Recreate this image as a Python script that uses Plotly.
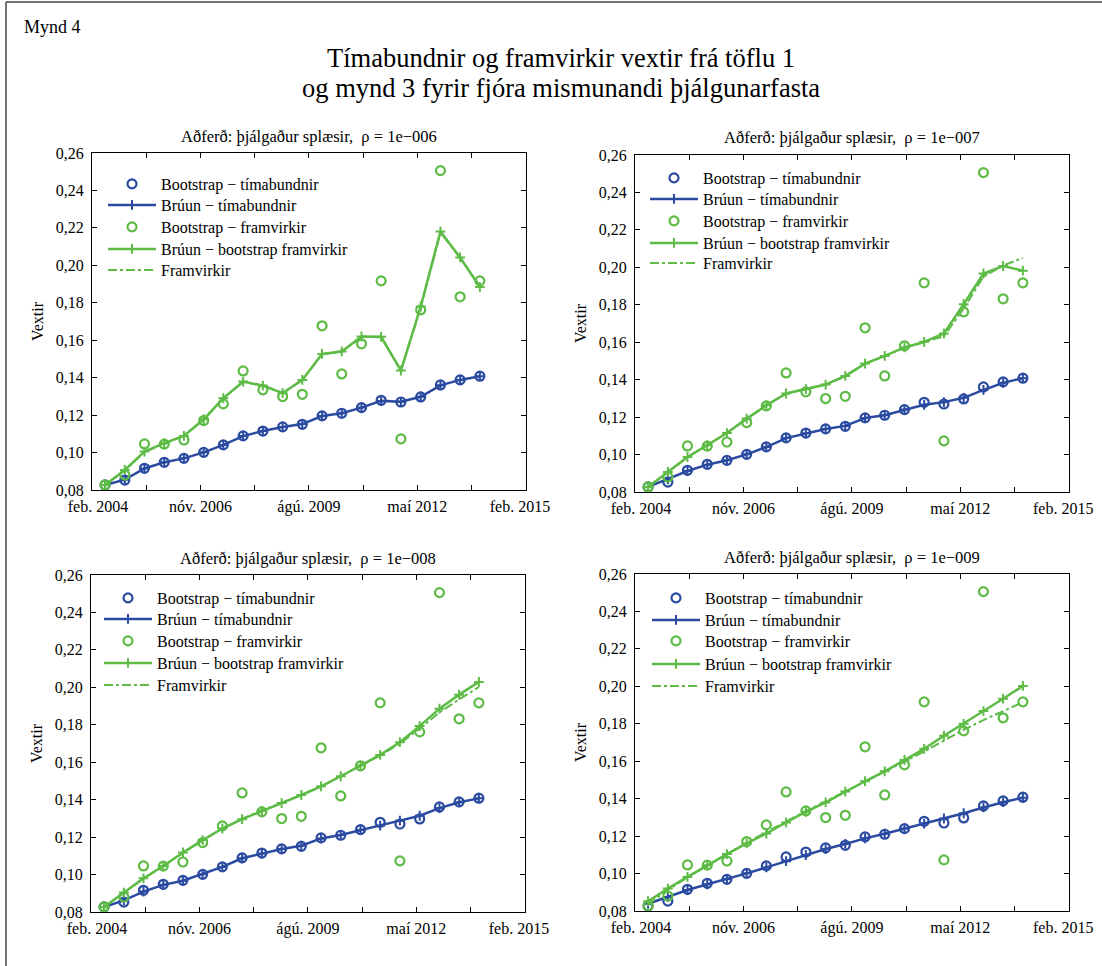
import plotly.graph_objects as go

# Observation dates (semi-annual)
dates = ["2004-06-01", "2004-12-01", "2005-06-01", "2005-12-01", "2006-06-01",
         "2006-12-01", "2007-06-01", "2007-12-01", "2008-06-01", "2008-12-01",
         "2009-06-01", "2009-12-01", "2010-06-01", "2010-12-01", "2011-06-01",
         "2011-12-01", "2012-06-01", "2012-12-01", "2013-06-01", "2013-12-01"]

# Bootstrap results (identical for every smoothing constant)
boot_spot = [0.0827, 0.0853, 0.0916, 0.0948, 0.0969, 0.1001, 0.1041, 0.1089, 0.1115, 0.1137,
             0.1151, 0.1196, 0.1210, 0.1240, 0.1279, 0.1270, 0.1297, 0.1361, 0.1388, 0.1408]
boot_fwd = [0.0827, 0.0880, 0.1046, 0.1045, 0.1067, 0.1171, 0.1260, 0.1436, 0.1335, 0.1299,
            0.1311, 0.1677, 0.1420, 0.1581, 0.1917, 0.1073, 0.1762, 0.2506, 0.1832, 0.1917]

# rho = 1e-6
spot_1 = [0.0827, 0.0855, 0.0915, 0.0948, 0.0969, 0.1001, 0.1041, 0.1088, 0.1115, 0.1137,
          0.1152, 0.1195, 0.1210, 0.1240, 0.1276, 0.1271, 0.1298, 0.1359, 0.1388, 0.1408]
fwdfit_1 = [0.0827, 0.0907, 0.1005, 0.1050, 0.1089, 0.1178, 0.1290, 0.1379, 0.1358, 0.1317,
            0.1388, 0.1527, 0.1540, 0.1620, 0.1618, 0.1438, 0.1780, 0.2181, 0.2042, 0.1884]
fwd_1 = [0.0827, 0.0905, 0.1003, 0.1048, 0.1090, 0.1176, 0.1288, 0.1377, 0.1357, 0.1318,
         0.1386, 0.1525, 0.1539, 0.1618, 0.1616, 0.1440, 0.1772, 0.2176, 0.2040, 0.1890]

# rho = 1e-7
spot_2 = [0.0827, 0.0868, 0.0912, 0.0946, 0.0970, 0.1001, 0.1040, 0.1088, 0.1114, 0.1136,
          0.1153, 0.1195, 0.1210, 0.1240, 0.1266, 0.1280, 0.1303, 0.1345, 0.1383, 0.1408]
fwdfit_2 = [0.0827, 0.0907, 0.0987, 0.1050, 0.1115, 0.1192, 0.1263, 0.1326, 0.1349, 0.1374,
            0.1420, 0.1486, 0.1527, 0.1572, 0.1602, 0.1647, 0.1803, 0.1967, 0.2007, 0.1982]
fwd_2 = [0.0827, 0.0905, 0.0985, 0.1050, 0.1114, 0.1190, 0.1262, 0.1325, 0.1349, 0.1373,
         0.1418, 0.1485, 0.1526, 0.1570, 0.1600, 0.1632, 0.1780, 0.1950, 0.2010, 0.2050]

# rho = 1e-8
spot_3 = [0.0827, 0.0862, 0.0909, 0.0945, 0.0967, 0.1002, 0.1041, 0.1087, 0.1113, 0.1136,
          0.1154, 0.1193, 0.1211, 0.1238, 0.1261, 0.1288, 0.1314, 0.1355, 0.1386, 0.1407]
fwdfit_3 = [0.0827, 0.0904, 0.0980, 0.1046, 0.1118, 0.1184, 0.1246, 0.1296, 0.1341, 0.1382,
            0.1425, 0.1471, 0.1525, 0.1582, 0.1639, 0.1707, 0.1793, 0.1886, 0.1961, 0.2029]
fwd_3 = [0.0827, 0.0902, 0.0978, 0.1045, 0.1116, 0.1183, 0.1246, 0.1298, 0.1342, 0.1383,
         0.1425, 0.1470, 0.1523, 0.1580, 0.1636, 0.1700, 0.1780, 0.1866, 0.1936, 0.2002]

# rho = 1e-9
spot_4 = [0.0839, 0.0875, 0.0912, 0.0943, 0.0970, 0.1001, 0.1033, 0.1066, 0.1099, 0.1131,
          0.1158, 0.1188, 0.1213, 0.1240, 0.1267, 0.1294, 0.1322, 0.1353, 0.1381, 0.1405]
fwdfit_4 = [0.0852, 0.0920, 0.0982, 0.1045, 0.1104, 0.1161, 0.1214, 0.1273, 0.1330, 0.1380,
            0.1438, 0.1493, 0.1546, 0.1607, 0.1666, 0.1736, 0.1800, 0.1868, 0.1934, 0.2002]
fwd_4 = [0.0835, 0.0912, 0.0980, 0.1043, 0.1106, 0.1165, 0.1222, 0.1280, 0.1334, 0.1385,
         0.1437, 0.1490, 0.1543, 0.1598, 0.1652, 0.1710, 0.1768, 0.1820, 0.1868, 0.1915]

rho_labels = ["1e\u2212006", "1e\u2212007", "1e\u2212008", "1e\u2212009"]
series_names = ["Bootstrap \u2212 tímabundnir", "Brúun \u2212 tímabundnir",
                "Bootstrap \u2212 framvirkir", "Brúun \u2212 bootstrap framvirkir", "Framvirkir"]

# Axis ticks
NB = "\u00a0"
x_tickvals = ["2004-02-01", "2005-06-16", "2006-11-01", "2008-03-16", "2009-08-01",
              "2010-12-16", "2012-05-01", "2013-09-16", "2015-02-01"]
x_ticktext = [NB * 3 + "feb. 2004", "", "nóv. 2006", "", "ágú. 2009", "", "maí 2012", "",
              "feb. 2015" + NB * 3]
y_tickvals = [0.08, 0.10, 0.12, 0.14, 0.16, 0.18, 0.20, 0.22, 0.24, 0.26]
y_ticktext = ["0,08", "0,10", "0,12", "0,14", "0,16", "0,18", "0,20", "0,22", "0,24", "0,26"]

BLUE = "#2B4BA1"
GREEN = "#5DBB46"
FONT = "Liberation Serif"
W, H = 1102, 966

# Pixel boxes of the four axes; legend left offset and row centres inside each box
panels = [
    dict(spot=spot_1, fwdfit=fwdfit_1, fwd=fwd_1, px=(92, 526), py=(153, 490),
         lgx=11, rows=(31, 52, 74, 96, 117)),
    dict(spot=spot_2, fwdfit=fwdfit_2, fwd=fwd_2, px=(635, 1069), py=(155, 492),
         lgx=10, rows=(23, 44, 66, 88, 108)),
    dict(spot=spot_3, fwdfit=fwdfit_3, fwd=fwd_3, px=(91, 525), py=(575, 912),
         lgx=8, rows=(23, 44, 66, 88, 110)),
    dict(spot=spot_4, fwdfit=fwdfit_4, fwd=fwd_4, px=(635, 1069), py=(574, 911),
         lgx=12, rows=(24, 46, 67, 90, 112)),
]

fig = go.Figure()
layout = dict(
    width=W, height=H, margin=dict(l=0, r=0, t=0, b=0, pad=0),
    paper_bgcolor="white", plot_bgcolor="white", showlegend=True,
    font=dict(family=FONT, color="black"),
    annotations=[], shapes=[],
)

legend_count = 0
for i, p in enumerate(panels):
    n = "" if i == 0 else str(i + 1)
    xa, ya = "x" + n, "y" + n
    x0, x1 = p["px"]
    y0, y1 = p["py"]
    right_col = i % 2 == 1

    styles = [
        dict(y=boot_spot, mode="markers",
             marker=dict(symbol="circle-open", size=9, color=BLUE,
                         line=dict(width=2.2, color=BLUE))),
        dict(y=p["spot"], mode="lines+markers", line=dict(color=BLUE, width=2.5),
             marker=dict(symbol="cross-thin", size=7, color=BLUE,
                         line=dict(width=2, color=BLUE))),
        dict(y=boot_fwd, mode="markers",
             marker=dict(symbol="circle-open", size=9, color=GREEN,
                         line=dict(width=2.2, color=GREEN))),
        dict(y=p["fwdfit"], mode="lines+markers", line=dict(color=GREEN, width=2.5),
             marker=dict(symbol="cross-thin", size=7, color=GREEN,
                         line=dict(width=2, color=GREEN))),
        dict(y=p["fwd"], mode="lines", line=dict(color=GREEN, width=2, dash="dashdot")),
    ]
    # every legend row gets its own legend box so the row spacing can be set exactly
    for name, st, row in zip(series_names, styles, p["rows"]):
        legend_count += 1
        lg = "legend" if legend_count == 1 else f"legend{legend_count}"
        fig.add_trace(go.Scatter(x=dates, name=name, xaxis=xa, yaxis=ya, legend=lg,
                                 showlegend=True, **st))
        layout[lg] = dict(x=(x0 + p["lgx"]) / W, y=1 - (y0 + row) / H,
                          xanchor="left", yanchor="middle",
                          bgcolor="rgba(0,0,0,0)", borderwidth=0,
                          font=dict(family=FONT, size=16, color="black"), itemwidth=48)

    # in the right column the last date label would run past the page edge,
    # so it is written as an annotation anchored on its right side instead
    ticktext = list(x_ticktext)
    if right_col:
        ticktext[-1] = ""
        layout["annotations"].append(dict(
            text="feb. 2015", x=1095 / W, y=1 - y1 / H, xref="paper", yref="paper",
            xanchor="right", yanchor="top", yshift=-6, showarrow=False,
            font=dict(family=FONT, size=16, color="black")))

    axis_style = dict(showline=True, linecolor="black", linewidth=1, mirror="ticks",
                      ticks="inside", ticklen=5, tickcolor="black", tickwidth=1,
                      showgrid=False, zeroline=False, automargin=False,
                      ticklabeloverflow="allow",
                      tickfont=dict(family=FONT, size=16, color="black"))
    layout["xaxis" + n] = dict(type="date", range=["2004-02-01", "2015-02-01"],
                               tickmode="array", tickvals=x_tickvals, ticktext=ticktext,
                               ticklabelstandoff=2,
                               domain=[x0 / W, x1 / W], anchor=ya, **axis_style)
    layout["yaxis" + n] = dict(range=[0.08, 0.26], tickmode="array",
                               tickvals=y_tickvals, ticktext=y_ticktext,
                               ticklabelstandoff=4,
                               domain=[1 - y1 / H, 1 - y0 / H], anchor=xa,
                               title=dict(text="Vextir", font=dict(family=FONT, size=16),
                                          standoff=8),
                               **axis_style)
    layout["annotations"].append(dict(
        text=f"Aðferð: þjálgaður splæsir,  \u03c1 = {rho_labels[i]}",
        x=(x0 + x1) / 2 / W, y=1 - (y0 - 17) / H, xref="paper", yref="paper",
        xanchor="center", yanchor="middle", showarrow=False,
        font=dict(family=FONT, size=16.5, color="black")))

# Figure title, one annotation per line
title_lines = ["Tímabundnir og framvirkir vextir frá töflu 1",
               "og mynd 3 fyrir fjóra mismunandi þjálgunarfasta"]
for line, ypx in zip(title_lines, (58, 88)):
    layout["annotations"].append(dict(
        text=line, x=561 / W, y=1 - ypx / H, xref="paper", yref="paper",
        xanchor="center", yanchor="middle", showarrow=False,
        font=dict(family=FONT, size=26.5, color="black")))
layout["annotations"].append(dict(
    text="Mynd 4", x=22 / W, y=1 - 27 / H, xref="paper", yref="paper",
    xanchor="left", yanchor="middle", showarrow=False,
    font=dict(family=FONT, size=18, color="black")))

# Frame around the figure (top and left edges)
layout["shapes"].append(dict(type="line", xref="paper", yref="paper",
                             x0=6 / W, x1=1, y0=1 - 2 / H, y1=1 - 2 / H,
                             line=dict(color="#444444", width=1.5)))
layout["shapes"].append(dict(type="line", xref="paper", yref="paper",
                             x0=6 / W, x1=6 / W, y0=0, y1=1 - 2 / H,
                             line=dict(color="#444444", width=1.5)))

fig.update_layout(**layout)
fig.write_html("out.html")
